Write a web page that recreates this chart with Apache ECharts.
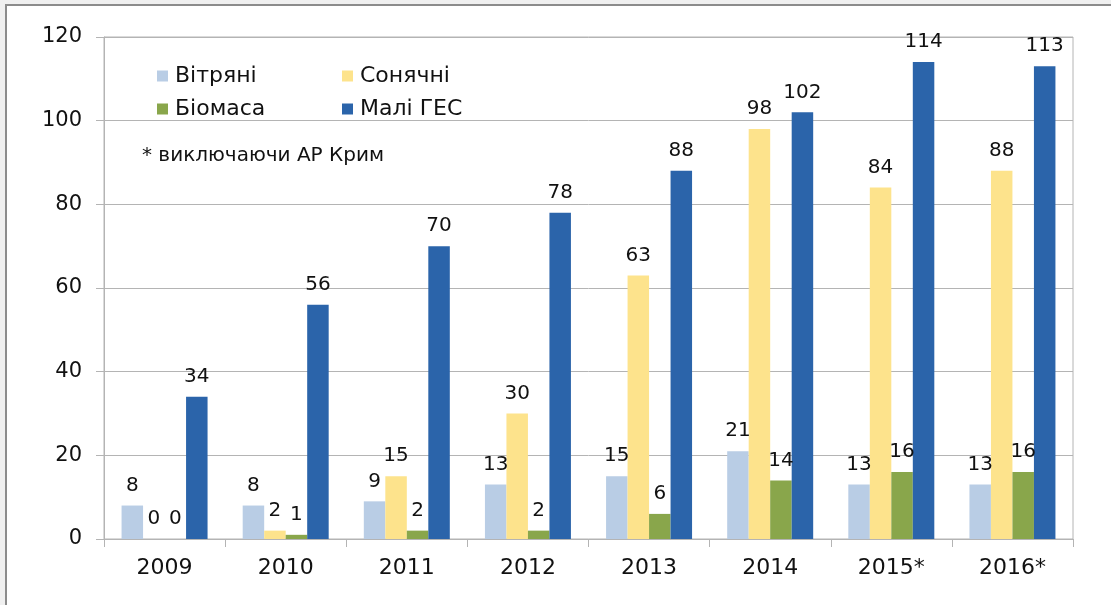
<!DOCTYPE html>
<html>
<head>
<meta charset="utf-8">
<script src="https://cdn.jsdelivr.net/npm/echarts@6/dist/echarts.min.js"></script>
<style>
  html, body { margin: 0; padding: 0; background: #f0f0f0; }
  #chart { width: 1111px; height: 605px; }
</style>
</head>
<body>
<div id="chart"></div>
<script>
// chart data
const years = ['2009', '2010', '2011', '2012', '2013', '2014', '2015*', '2016*'];
const wind = [8, 8, 9, 13, 15, 21, 13, 13];
const solar = [0, 2, 15, 30, 63, 98, 84, 88];
const biomass = [0, 1, 2, 2, 6, 14, 16, 16];
const smallHydro = [34, 56, 70, 78, 88, 102, 114, 113];
const yTicks = [0, 20, 40, 60, 80, 100, 120];

const FONT = '"DejaVu Sans", Verdana, sans-serif';
const gridColor = '#b4b4b4';

function bar(name, data, color) {
    return {
        name: name,
        type: 'bar',
        data: data,
        barGap: '0%',
        barCategoryGap: '29%',
        itemStyle: { color: color },
        label: {
            show: true,
            position: 'top',
            distance: 10,
            color: '#111',
            fontFamily: FONT,
            fontSize: 20
        }
    };
}

const legendText = { fontFamily: FONT, fontSize: 22, color: '#111', lineHeight: 22, padding: [0, 0, 0, 2] };

let myChart = echarts.init(document.getElementById('chart'));
myChart.setOption({
    backgroundColor: '#f0f0f0',
    animation: false,
    graphic: [
        {
            type: 'rect',
            z: -100,
            silent: true,
            shape: { x: 6, y: 5, width: 1200, height: 700 },
            style: { fill: '#ffffff', stroke: '#8c8c8c', lineWidth: 2 }
        },
        {
            type: 'text',
            left: 142,
            top: 146,
            style: {
                text: '* виключаючи АР Крим',
                font: '20px ' + FONT,
                fill: '#111'
            }
        }
    ],
    legend: [
        {
            orient: 'vertical',
            left: 157,
            top: 65,
            padding: 0,
            itemWidth: 11,
            itemHeight: 11,
            itemGap: 11,
            icon: 'rect',
            data: ['Вітряні', 'Біомаса'],
            textStyle: legendText
        },
        {
            orient: 'vertical',
            left: 342,
            top: 65,
            padding: 0,
            itemWidth: 11,
            itemHeight: 11,
            itemGap: 11,
            icon: 'rect',
            data: ['Сонячні', 'Малі ГЕС'],
            textStyle: legendText
        }
    ],
    grid: {
        left: 104,
        right: 38,
        top: 37,
        bottom: 66,
        show: true,
        borderColor: gridColor,
        borderWidth: 1,
        backgroundColor: 'transparent'
    },
    xAxis: {
        type: 'category',
        data: years,
        axisLine: { lineStyle: { color: gridColor } },
        axisTick: { show: true, length: 8, interval: 0, lineStyle: { color: gridColor } },
        axisLabel: { fontFamily: FONT, fontSize: 22, color: '#111', margin: 18, interval: 0 }
    },
    yAxis: {
        type: 'value',
        min: yTicks[0],
        max: yTicks[yTicks.length - 1],
        interval: yTicks[1] - yTicks[0],
        axisLine: { show: true, lineStyle: { color: gridColor } },
        axisTick: { show: true, length: 8, lineStyle: { color: gridColor } },
        axisLabel: { fontFamily: FONT, fontSize: 21, color: '#111', margin: 22 },
        splitLine: { lineStyle: { color: gridColor } }
    },
    series: [
        bar('Вітряні', wind, '#b9cde5'),
        bar('Сонячні', solar, '#fde38c'),
        bar('Біомаса', biomass, '#89a64b'),
        bar('Малі ГЕС', smallHydro, '#2b64aa')
    ]
});
</script>
</body>
</html>
